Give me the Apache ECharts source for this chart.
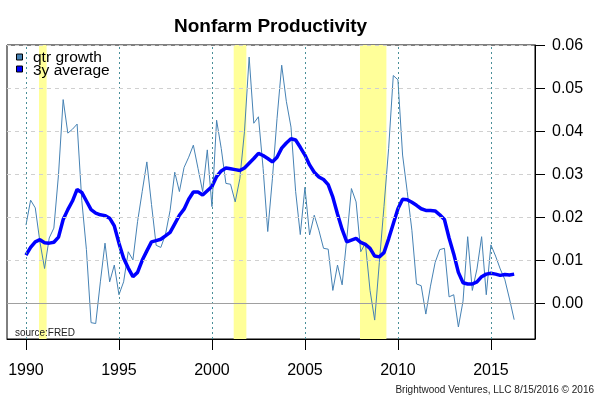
<!DOCTYPE html>
<html>
<head>
<meta charset="utf-8">
<script src="https://cdn.jsdelivr.net/npm/echarts@6/dist/echarts.min.js"></script>
<style>html,body{margin:0;padding:0;background:#fff}#c{width:600px;height:400px}</style>
</head>
<body>
<div id="c"></div>
<script>
// ---- data ----
const startYear = 1990;           // first quarter (1990 Q1)
const qtrGrowth = [
  0.0182,0.024,0.0222,0.0143,0.0081,0.0152,0.0175,0.030,0.0474,0.0396,
  0.0405,0.0417,0.024,0.0125,-0.0045,-0.0047,0.005,0.014,0.005,0.0089,
  0.002,0.005,0.012,0.0101,0.019,0.026,0.0329,0.023,0.0135,0.013,
  0.016,0.0216,0.0305,0.026,0.0316,0.034,0.0368,0.0314,0.026,0.0357,
  0.0225,0.0426,0.036,0.0279,0.0277,0.0236,0.029,0.040,0.0573,0.0419,
  0.0434,0.0314,0.0167,0.029,0.043,0.0554,0.047,0.041,0.026,0.016,
  0.027,0.0159,0.0205,0.017,0.0128,0.0126,0.003,0.0089,0.0043,0.015,
  0.0267,0.0236,0.012,0.014,0.003,-0.0039,0.0095,0.0225,0.036,0.053,
  0.052,0.0345,0.026,0.017,0.0045,0.0041,-0.0025,0.004,0.0095,0.0125,
  0.0128,0.0015,0.002,-0.0055,0.0005,0.0155,0.003,0.008,0.0155,0.002,
  0.0136,0.011,0.008,0.0055,0.001,-0.0038
];
const avg3y = [
  0.0112,0.013,0.0143,0.0148,0.0141,0.014,0.0142,0.0154,0.0195,0.0218,
  0.0238,0.0265,0.0258,0.0238,0.0218,0.021,0.0206,0.0204,0.0198,0.018,
  0.014,0.0105,0.0082,0.0062,0.0072,0.010,0.0122,0.0143,0.0146,0.0149,
  0.0157,0.0165,0.0185,0.0205,0.0219,0.0242,0.0259,0.0259,0.0252,0.0262,
  0.0272,0.0295,0.0308,0.0315,0.0313,0.0311,0.0309,0.0315,0.0326,0.0337,
  0.0349,0.0344,0.0337,0.0329,0.034,0.0361,0.0373,0.0383,0.038,0.0363,
  0.0345,0.0322,0.0305,0.0294,0.0288,0.0276,0.0247,0.0208,0.0172,0.0143,
  0.0147,0.0151,0.0142,0.0137,0.0128,0.011,0.0108,0.0118,0.015,0.0185,
  0.022,0.0242,0.0241,0.0235,0.0228,0.022,0.0216,0.0216,0.0215,0.0206,
  0.0195,0.0152,0.0115,0.0072,0.0048,0.0045,0.0045,0.005,0.0062,0.0068,
  0.007,0.0068,0.0065,0.0067,0.0066,0.0068
];
const recessionStart = [1990.70, 2001.17, 2007.96];
const recessionEnd   = [1991.11, 2001.85, 2009.38];
const xTicks = [1990, 1995, 2000, 2005, 2010, 2015];
const yTicks = [0, 0.01, 0.02, 0.03, 0.04, 0.05, 0.06];
const seriesNames = ['qtr growth', '3y average'];

// ---- build ----
const FONT = '"Liberation Sans", Arial, sans-serif';
const toPairs = arr => arr.map((v, i) => [startYear + i * 0.25, v]);

const chart = echarts.init(document.getElementById('c'), null, {renderer: 'canvas'});
chart.setOption({
  animation: false,
  backgroundColor: '#fff',
  title: {
    text: 'Nonfarm Productivity',
    left: 169, top: 12,
    textStyle: {fontFamily: FONT, fontSize: 19, fontWeight: 'bold', color: '#000'}
  },
  grid: {left: 7, right: 65, top: 45, bottom: 61, show: true, borderColor: '#000', borderWidth: 1, containLabel: false},
  xAxis: {
    type: 'value', min: 1988.98, max: 2017.37,
    axisLine: {show: true, onZero: false, lineStyle: {color: '#000', width: 1}},
    splitLine: {show: false},
    axisTick: {show: true, customValues: xTicks, length: 11, inside: false, lineStyle: {color: '#000', width: 1}},
    axisLabel: {customValues: xTicks, margin: 24, fontFamily: FONT, fontSize: 16, color: '#000', formatter: v => String(v)}
  },
  yAxis: {
    type: 'value', position: 'right', min: -0.0083, max: 0.0601,
    axisLine: {show: true, onZero: false, lineStyle: {color: '#000', width: 1}},
    splitLine: {show: false},
    axisTick: {show: true, customValues: yTicks, length: 10, inside: false, lineStyle: {color: '#000', width: 1}},
    axisLabel: {customValues: yTicks, margin: 17, fontFamily: FONT, fontSize: 16, color: '#000', formatter: v => v.toFixed(2)}
  },
  series: [
    {
      type: 'line', name: 'bg', data: [], silent: true, z: 1,
      markArea: {
        silent: true,
        itemStyle: {color: '#FFFF99'},
        data: recessionStart.map((s, i) => [{xAxis: s}, {xAxis: recessionEnd[i]}])
      },
      markLine: {
        silent: true, symbol: 'none', label: {show: false},
        data: [
          ...xTicks.map(x => ({xAxis: x, lineStyle: {color: '#4A8F99', type: [2, 3], width: 1}})),
          ...yTicks.filter(v => v !== 0).map(y => ({yAxis: y, lineStyle: {color: '#D0D0D0', type: [4, 4], width: 1}})),
          {yAxis: 0, lineStyle: {color: '#A0A0A0', type: 'solid', width: 1}}
        ]
      }
    },
    {
      type: 'line', name: seriesNames[0], data: toPairs(qtrGrowth), showSymbol: false, z: 3,
      lineStyle: {color: '#4682B4', width: 1}, itemStyle: {color: '#4682B4'}
    },
    {
      type: 'line', name: seriesNames[1], data: toPairs(avg3y), showSymbol: false, z: 4,
      lineStyle: {color: '#0000FF', width: 3.5}, itemStyle: {color: '#0000FF'}
    }
  ],
  graphic: [
    {type: 'rect', shape: {x: 16.5, y: 54, width: 6, height: 6}, style: {fill: '#4682B4', stroke: '#000', lineWidth: 1}, z: 10},
    {type: 'rect', shape: {x: 16.5, y: 66, width: 6, height: 6}, style: {fill: '#0000FF', stroke: '#000', lineWidth: 1}, z: 10},
    {type: 'text', x: 33, y: 58, style: {text: seriesNames[0], font: '15.5px ' + FONT, fill: '#000', verticalAlign: 'middle'}, z: 10},
    {type: 'text', x: 33, y: 70.5, style: {text: seriesNames[1], font: '15.5px ' + FONT, fill: '#000', verticalAlign: 'middle'}, z: 10},
    {type: 'text', x: 15, y: 333, style: {text: 'source:FRED', font: '10px ' + FONT, fill: '#222', verticalAlign: 'middle'}, z: 10},
    {type: 'text', x: 594, y: 390, style: {text: 'Brightwood Ventures, LLC 8/15/2016 \u00A9 2016', font: '10px ' + FONT, fill: '#222', align: 'right', verticalAlign: 'middle'}, z: 10}
  ]
});
</script>
</body>
</html>
